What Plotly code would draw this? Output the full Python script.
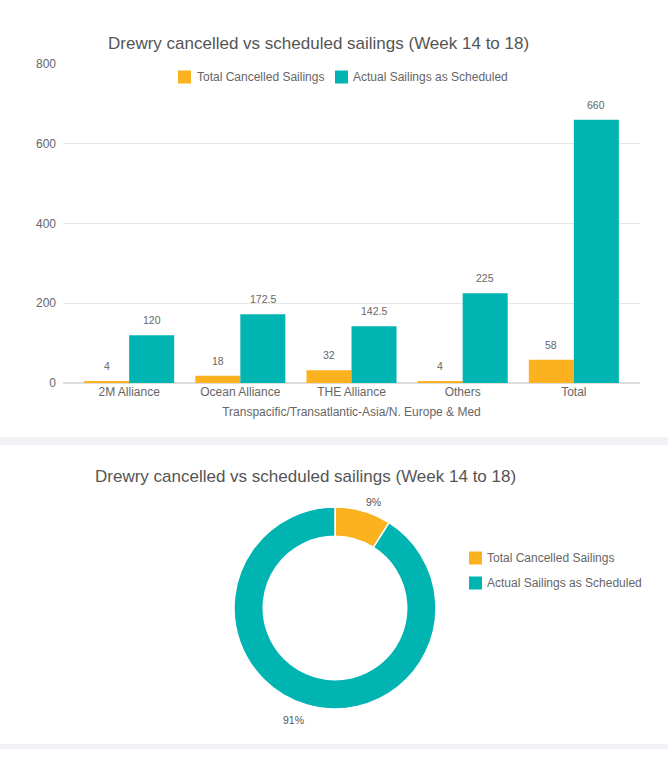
import plotly.graph_objects as go

W = 668
H = 771

title = "Drewry cancelled vs scheduled sailings (Week 14 to 18)"
x_title = "Transpacific/Transatlantic-Asia/N. Europe & Med"
series_names = ["Total Cancelled Sailings", "Actual Sailings as Scheduled"]
series_colors = ["#FBB21E", "#00B4B1"]

alliances = ["2M Alliance", "Ocean Alliance", "THE Alliance", "Others", "Total"]
cancelled = [4, 18, 32, 4, 58]
scheduled = [120, 172.5, 142.5, 225, 660]
y_ticks = [0, 200, 400, 600, 800]

share_values = [9, 91]


def px_x(p):
    return p / W


def px_y(p):
    return 1 - p / H


def bar_trace(name, values, color):
    return go.Bar(
        x=alliances,
        y=values,
        name=name,
        marker=dict(color=color, line=dict(width=0)),
    )


def bar_labels(values, xshift):
    # value labels float about 15px over the bar tops
    labels = []
    for cat, v in zip(alliances, values):
        labels.append(dict(text=str(v), x=cat, y=v, xref="x", yref="y",
                           xshift=xshift, yshift=15, showarrow=False,
                           yanchor="middle", font=dict(size=10.5, color="#666666")))
    return labels


def legend_item(name, color, swatch_x, text_x, y):
    # plotly's own legend keeps a wider gap after the swatch than the reference has
    shape = dict(type="rect", xref="paper", yref="paper",
                 x0=px_x(swatch_x), x1=px_x(swatch_x + 13),
                 y0=px_y(y + 6.5), y1=px_y(y - 6.5),
                 fillcolor=color, line_width=0)
    text = dict(text=name, xref="paper", yref="paper", x=px_x(text_x), y=px_y(y),
                xanchor="left", yanchor="middle", showarrow=False,
                font=dict(size=12, color="#666666"))
    return shape, text


def pie_label(value, x, y):
    return dict(text=f"{value}%", xref="paper", yref="paper", x=px_x(x), y=px_y(y),
                showarrow=False, yanchor="middle", font=dict(size=10.5, color="#555555"))


fig = go.Figure()
fig.add_trace(bar_trace(series_names[0], cancelled, series_colors[0]))
fig.add_trace(bar_trace(series_names[1], scheduled, series_colors[1]))

fig.add_trace(go.Pie(
    labels=series_names,
    values=share_values,
    hole=0.71,
    sort=False,
    direction="clockwise",
    rotation=0,
    marker=dict(colors=series_colors, line=dict(color="#ffffff", width=1.5)),
    textinfo="none",
    domain=dict(x=[px_x(234), px_x(436)], y=[px_y(709), px_y(507)]),
))

items = [
    legend_item(series_names[0], series_colors[0], 178, 195, 77),
    legend_item(series_names[1], series_colors[1], 335, 351, 77),
    legend_item(series_names[0], series_colors[0], 469, 485, 558),
    legend_item(series_names[1], series_colors[1], 469, 485, 583),
]

annotations = [
    dict(text=title, xref="paper", yref="paper", x=px_x(106), y=px_y(43),
         xanchor="left", yanchor="middle", showarrow=False,
         font=dict(size=17, color="#555555")),
    dict(text=title, xref="paper", yref="paper", x=px_x(93), y=px_y(476),
         xanchor="left", yanchor="middle", showarrow=False,
         font=dict(size=17, color="#555555")),
    pie_label(share_values[0], 373, 502),
    pie_label(share_values[1], 293, 720),
]
annotations += bar_labels(cancelled, -22.5)
annotations += bar_labels(scheduled, 22.5)
annotations += [item[1] for item in items]

shapes = [
    dict(type="rect", xref="paper", yref="paper", x0=0, x1=1,
         y0=px_y(445), y1=px_y(437), fillcolor="#F2F3F7", line_width=0, layer="below"),
    dict(type="rect", xref="paper", yref="paper", x0=0, x1=1,
         y0=px_y(749), y1=px_y(744), fillcolor="#F2F3F7", line_width=0, layer="below"),
]
shapes += [item[0] for item in items]

fig.update_layout(
    width=W,
    height=H,
    margin=dict(l=0, r=0, t=0, b=0, autoexpand=False),
    showlegend=False,
    paper_bgcolor="#ffffff",
    plot_bgcolor="#ffffff",
    font=dict(family="Liberation Sans, Arial, sans-serif", color="#666666", size=12),
    barmode="group",
    bargap=0.19,
    bargroupgap=0,
    xaxis=dict(
        domain=[px_x(63), px_x(640)],
        range=[-0.595, 4.595],
        showgrid=False,
        showline=False,
        ticks="",
        tickfont=dict(size=12, color="#666666"),
        title=dict(text=x_title, font=dict(size=12, color="#666666"), standoff=9),
    ),
    yaxis=dict(
        domain=[px_y(383), px_y(64)],
        range=[0, 800],
        tickvals=y_ticks,
        gridcolor="#E6E6E6",
        zeroline=True,
        zerolinecolor="#DDDDDD",
        tickfont=dict(size=12, color="#666666"),
        ticks="",
        ticklabelstandoff=6,
    ),
    annotations=annotations,
    shapes=shapes,
)

fig.write_html("out.html", config=dict(displayModeBar=False),
               post_script="document.body.style.margin='0';")
